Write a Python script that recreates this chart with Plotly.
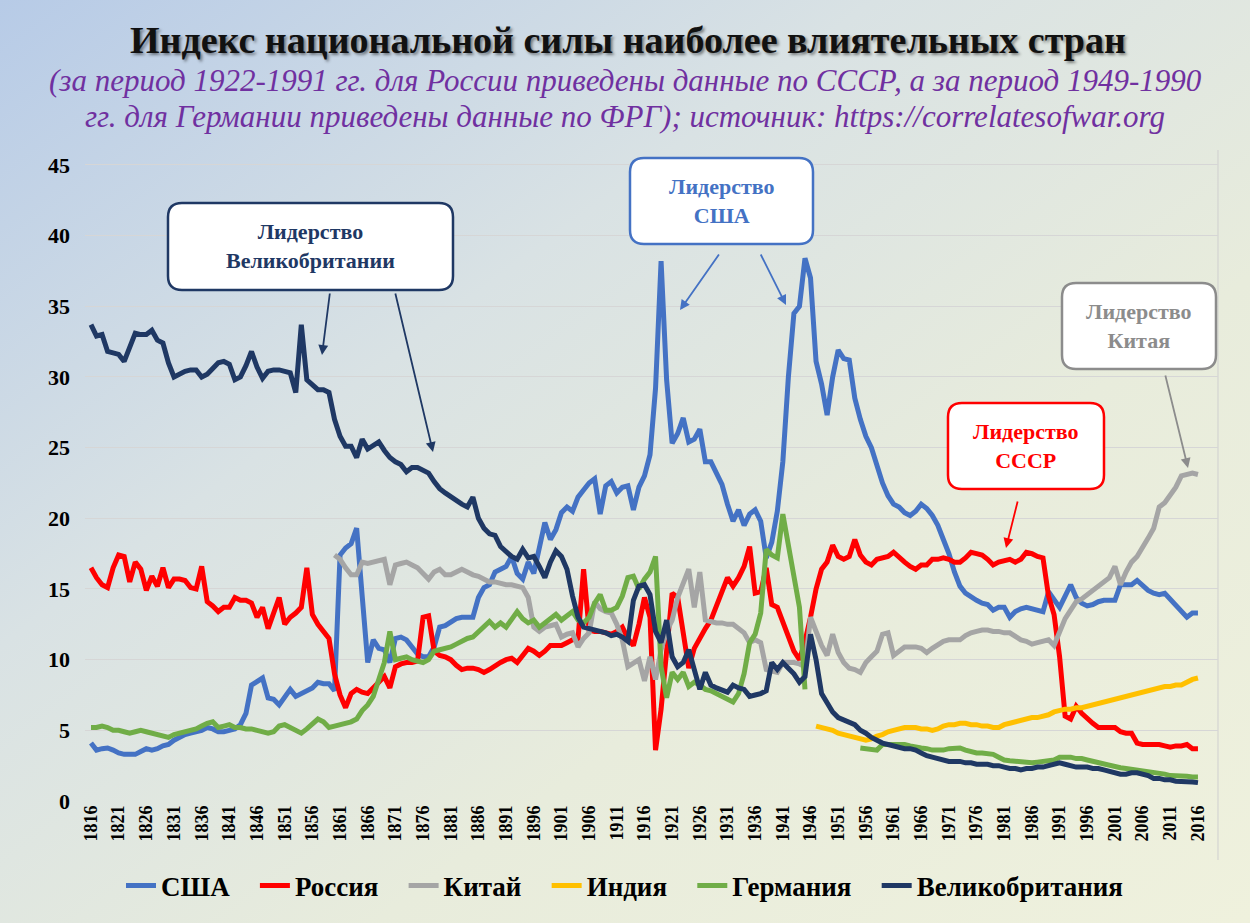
import base64
import plotly.graph_objects as go

# ---------------- data ----------------
years_all = list(range(1816, 2017))

usa_values = [
    4.1, 3.6, 3.7, 3.75, 3.6, 3.4, 3.3, 3.3, 3.3, 3.5,
    3.7, 3.6, 3.7, 3.9, 4.0, 4.3, 4.5, 4.7, 4.8, 4.9,
    5.0, 5.2, 5.1, 4.9, 4.9, 5.0, 5.1, 5.4, 6.2, 8.2,
    8.5, 8.7, 7.3, 7.2, 6.8, 7.3, 7.9, 7.4, 7.6, 7.8,
    8.0, 8.4, 8.3, 8.3, 7.8, 17.4, 17.9, 18.2, 19.3, 14.5,
    9.8, 11.4, 10.8, 10.7, 9.8, 11.5, 11.6, 11.4, 10.9, 10.4,
    10.2, 10.2, 10.9, 12.3, 12.4, 12.7, 12.9, 13.0, 13.0, 13.0,
    14.4, 15.1, 15.3, 16.2, 16.4, 16.6, 17.3, 16.1, 15.7, 16.9,
    16.1, 17.8, 19.7, 18.5, 19.2, 20.4, 20.8, 20.5, 21.5, 22.0,
    22.5, 22.8, 20.3, 22.3, 22.6, 21.8, 22.2, 22.3, 20.6, 22.2,
    23.0, 24.5, 29.2, 38.2, 29.8, 25.3, 26.0, 27.1, 25.4, 25.6,
    26.3, 24.0, 24.0, 23.2, 22.4, 21.0, 19.8, 20.6, 19.5, 20.3,
    20.6, 19.8, 17.2, 18.3, 20.5, 24.0, 30.0, 34.5, 35.0, 38.4,
    37.0, 31.1, 29.5, 27.3, 30.0, 31.9, 31.3, 31.2, 28.5, 27.0,
    25.8, 25.0, 23.7, 22.5, 21.6, 21.0, 20.8, 20.4, 20.2, 20.5,
    21.0, 20.7, 20.2, 19.5, 18.5, 17.5, 16.2, 15.2, 14.7, 14.4,
    14.2, 14.0, 13.9, 13.5, 13.7, 13.7, 13.0, 13.4, 13.6, 13.7,
    13.6, 13.5, 13.4, 14.8, 14.2, 13.7, 14.5, 15.3, 14.4, 14.0,
    13.8, 13.9, 14.1, 14.2, 14.2, 14.2, 15.3, 15.3, 15.3, 15.6,
    15.2, 14.9, 14.7, 14.6, 14.7, 14.3, 13.8, 13.4, 13.0, 13.3,
    13.3,
]

russia_values = [
    16.5, 15.8, 15.3, 15.1, 16.5, 17.4, 17.3, 15.5, 16.9, 16.4,
    14.9, 15.9, 15.2, 16.5, 15.1, 15.7, 15.7, 15.6, 15.1, 15.0,
    16.6, 14.1, 13.8, 13.4, 13.7, 13.7, 14.4, 14.2, 14.2, 14.0,
    13.0, 13.7, 12.2, 13.2, 14.4, 12.5, 13.0, 13.3, 13.7, 16.5,
    13.2, 12.5, 12.0, 11.5, 9.0, 7.5, 6.6, 7.6, 7.9, 7.7,
    7.6, 8.0, 8.4, 8.8, 8.0, 9.5, 9.7, 9.8, 9.8, 9.9,
    13.0, 13.1, 10.6, 10.3, 10.2, 10.0, 9.6, 9.3, 9.4, 9.4,
    9.3, 9.1, 9.3, 9.6, 9.8, 10.0, 10.1, 9.8, 10.3, 10.8,
    10.6, 10.3, 10.6, 11.0, 11.0, 11.0, 11.2, 11.4, 11.5, 16.4,
    12.1, 12.0, 12.0, 11.9, 11.8, 12.0, 12.3, 11.5, 11.0, 12.5,
    14.4, 13.0, 3.6, 6.5, 10.5, 14.7, 14.4, 12.0, 9.4, 10.8,
    11.6, 12.2, 12.8, 13.8, 14.6, 15.8, 15.2, 15.8, 16.6, 18.0,
    14.7, 14.8, 16.5, 13.9, 13.7, 12.6, 11.6, 10.6, 10.0, 11.3,
    13.0, 15.0, 16.4, 16.9, 18.1, 17.3, 17.1, 17.3, 18.5, 17.4,
    16.9, 16.7, 17.1, 17.2, 17.3, 17.6, 17.2, 16.9, 16.6, 16.4,
    16.7, 16.7, 17.1, 17.1, 17.2, 17.1, 16.9, 16.9, 17.2, 17.6,
    17.5, 17.4, 17.1, 16.7, 16.9, 17.0, 17.1, 16.9, 17.1, 17.6,
    17.5, 17.3, 17.2, 14.5, 13.2, 10.2, 6.0, 5.8, 6.7, 6.2,
    5.8, 5.5, 5.2, 5.2, 5.2, 5.2, 4.9, 4.8, 4.8, 4.1,
    4.0, 4.0, 4.0, 4.0, 3.9, 3.8, 3.9, 3.9, 4.0, 3.7,
    3.7,
]

china_years = list(range(1860, 2017))
china_values = [
    17.4, 17.1, 16.5, 16.0, 16.0, 16.9, 16.8, 16.9, 17.0, 17.1,
    15.3, 16.7, 16.8, 16.9, 16.7, 16.5, 16.1, 15.7, 16.2, 16.4,
    16.0, 16.0, 16.2, 16.4, 16.2, 16.0, 15.9, 15.7, 15.5, 15.5,
    15.4, 15.3, 15.3, 15.2, 15.1, 14.4, 12.3, 12.0, 12.3, 12.4,
    12.5, 11.6, 11.8, 11.9, 10.9, 11.5, 11.9, 14.1, 13.6, 13.4,
    13.3, 12.5, 11.4, 9.5, 9.8, 10.0, 8.5, 10.2, 8.6, 10.7,
    12.0, 12.8, 14.4, 15.5, 16.4, 13.7, 16.2, 12.8, 12.7, 12.6,
    12.6, 12.5, 12.5, 12.2, 11.9, 11.2, 11.4, 11.2, 9.3, 9.2,
    9.1, 9.8, 9.8, 9.8, 9.7, 9.5, 13.0, 11.9, 11.0, 10.3,
    11.8, 10.5, 9.8, 9.4, 9.3, 9.1, 9.8, 10.2, 10.6, 11.8,
    11.9, 10.3, 10.6, 10.9, 10.9, 10.9, 10.8, 10.5, 10.8, 11.1,
    11.3, 11.4, 11.4, 11.4, 11.7, 11.9, 12.0, 12.1, 12.1, 12.0,
    12.0, 11.9, 11.9, 11.6, 11.4, 11.3, 11.1, 11.2, 11.3, 11.4,
    11.0, 12.0, 12.9, 13.5, 14.1, 14.3, 14.6, 14.9, 15.2, 15.5,
    15.8, 16.6, 15.3, 16.2, 16.9, 17.3, 17.9, 18.6, 19.3, 20.8,
    21.1, 21.6, 22.2, 23.0, 23.1, 23.2, 23.1,
]

india_years = list(range(1947, 2017))
india_values = [
    5.3, 5.2, 5.1, 5.0, 4.8, 4.7, 4.6, 4.5, 4.4, 4.3,
    4.4, 4.6, 4.7, 4.9, 5.0, 5.1, 5.2, 5.2, 5.2, 5.1,
    5.1, 5.0, 5.1, 5.3, 5.4, 5.4, 5.5, 5.5, 5.4, 5.4,
    5.3, 5.3, 5.2, 5.2, 5.4, 5.5, 5.6, 5.7, 5.8, 5.9,
    5.9, 6.0, 6.1, 6.3, 6.4, 6.5, 6.5, 6.6, 6.6, 6.7,
    6.8, 6.9, 7.0, 7.1, 7.2, 7.3, 7.4, 7.5, 7.6, 7.7,
    7.8, 7.9, 8.0, 8.1, 8.1, 8.2, 8.2, 8.4, 8.6, 8.7,
]

germany_years_1 = list(range(1816, 1946))
germany_values_1 = [
    5.2, 5.2, 5.3, 5.2, 5.0, 5.0, 4.9, 4.8, 4.9, 5.0,
    4.9, 4.8, 4.7, 4.6, 4.5, 4.7, 4.8, 4.9, 5.0, 5.1,
    5.3, 5.5, 5.6, 5.2, 5.3, 5.4, 5.2, 5.2, 5.1, 5.1,
    5.0, 4.9, 4.8, 4.9, 5.3, 5.4, 5.2, 5.0, 4.8, 5.1,
    5.4, 5.8, 5.6, 5.2, 5.3, 5.4, 5.5, 5.6, 5.8, 6.4,
    6.8, 7.4, 8.6, 9.8, 12.0, 10.0, 10.1, 10.2, 10.0, 9.9,
    9.8, 10.0, 10.6, 10.7, 10.8, 10.9, 11.1, 11.3, 11.5, 11.6,
    12.0, 12.4, 12.7, 12.3, 12.6, 12.3, 12.9, 13.4, 12.9, 12.6,
    12.8, 12.3, 12.6, 12.9, 13.2, 12.8, 13.1, 13.4, 12.8, 12.6,
    13.0, 14.0, 14.6, 13.5, 13.5, 13.7, 14.5, 15.8, 15.9, 15.0,
    15.7, 16.2, 17.3, 9.5, 7.3, 9.1, 8.6, 9.1, 8.1, 8.4,
    8.2, 7.9, 7.8, 7.6, 7.4, 7.2, 7.0, 7.6, 9.0, 11.2,
    11.8, 13.3, 17.8, 17.4, 17.2, 20.3, 18.0, 15.5, 13.7, 7.9,
]
germany_years_2 = list(range(1955, 2017))
germany_values_2 = [
    3.75, 3.7, 3.6, 3.6, 4.0, 4.0, 4.0, 4.0, 4.0, 3.9,
    3.8, 3.75, 3.7, 3.6, 3.6, 3.6, 3.7, 3.75, 3.75, 3.6,
    3.5, 3.4, 3.4, 3.35, 3.3, 3.1, 2.9, 2.85, 2.8, 2.75,
    2.7, 2.7, 2.75, 2.8, 2.8, 2.9, 3.1, 3.1, 3.1, 3.0,
    3.0, 2.9, 2.8, 2.7, 2.6, 2.5, 2.4, 2.35, 2.3, 2.25,
    2.2, 2.1, 2.1, 2.0, 1.95, 1.9, 1.8, 1.8, 1.75, 1.75,
    1.7, 1.7,
]

uk_values = [
    33.7, 32.9, 33.0, 31.8, 31.7, 31.6, 31.1, 32.2, 33.1, 33.0,
    33.0, 33.3, 32.6, 32.4, 31.0, 30.0, 30.2, 30.4, 30.5, 30.5,
    30.0, 30.2, 30.6, 31.0, 31.1, 30.9, 29.8, 30.0, 30.8, 31.8,
    30.7, 29.9, 30.4, 30.5, 30.5, 30.4, 30.3, 28.9, 33.7, 29.8,
    29.5, 29.1, 29.1, 28.9, 27.0, 25.8, 25.1, 25.1, 24.3, 25.6,
    24.9, 25.2, 25.4, 24.8, 24.3, 24.0, 23.8, 23.3, 23.6, 23.6,
    23.4, 23.2, 22.6, 22.1, 21.8, 21.5, 21.3, 21.0, 20.8, 21.5,
    20.0, 19.3, 18.9, 18.8, 18.0, 17.6, 17.3, 17.1, 17.8, 17.2,
    17.3, 16.6, 15.8, 16.9, 17.7, 17.3, 16.4, 14.5, 13.0, 12.3,
    12.2, 12.1, 12.0, 11.9, 11.7, 11.8, 11.6, 11.3, 14.2, 15.2,
    15.3, 14.6, 12.0, 11.2, 12.8, 10.2, 9.5, 9.8, 10.7, 9.3,
    7.9, 9.1, 8.2, 8.0, 7.8, 7.7, 8.2, 8.0, 7.9, 7.4,
    7.5, 7.6, 7.8, 9.8, 9.3, 9.8, 9.4, 9.0, 8.4, 8.8,
    11.8, 10.0, 7.6, 6.9, 6.3, 5.9, 5.7, 5.6, 5.4, 5.0,
    4.8, 4.5, 4.3, 4.1, 4.0, 3.9, 3.8, 3.7, 3.7, 3.6,
    3.4, 3.2, 3.1, 3.0, 2.9, 2.8, 2.8, 2.8, 2.7, 2.7,
    2.6, 2.6, 2.6, 2.5, 2.5, 2.4, 2.3, 2.3, 2.2, 2.3,
    2.3, 2.4, 2.4, 2.5, 2.6, 2.7, 2.6, 2.5, 2.4, 2.4,
    2.4, 2.3, 2.3, 2.2, 2.1, 2.0, 1.9, 1.9, 2.0, 2.0,
    1.9, 1.8, 1.6, 1.6, 1.5, 1.5, 1.4, 1.4, 1.4, 1.35,
    1.3,
]

x_tick_values = list(range(1816, 2017, 5))
y_tick_values = [0, 5, 10, 15, 20, 25, 30, 35, 40, 45]

series_names = ["США", "Россия", "Китай", "Индия", "Германия", "Великобритания"]
series_colors = ["#4472c4", "#ff0000", "#a5a5a5", "#ffc000", "#70ad47", "#1f3864"]

# ---------------- figure geometry ----------------
W, H = 1250, 923
L, R, T, B = 85, 32, 161, 122
PW = W - L - R
PH = H - T - B
FONT = "'Liberation Serif', 'DejaVu Serif', 'Times New Roman', serif"


def pxx(px):
    return (px - L) / PW


def pxy(py):
    return (H - B - py) / PH


germany_years = germany_years_1 + [1950] + germany_years_2
germany_values = germany_values_1 + [None] + germany_values_2

series = [
    (years_all, usa_values),
    (years_all, russia_values),
    (china_years, china_values),
    (india_years, india_values),
    (germany_years, germany_values),
    (years_all, uk_values),
]

fig = go.Figure()
for (xs, ys), name, color in zip(series, series_names, series_colors):
    fig.add_trace(go.Scatter(
        x=xs, y=ys, mode="lines",
        name=name + "\u00a0\u00a0\u00a0",   # padding widens the legend spacing
        line=dict(color=color, width=5),
        connectgaps=False,
    ))

# ---------------- background gradient ----------------
svg = (
    "<svg xmlns='http://www.w3.org/2000/svg' width='1250' height='923' preserveAspectRatio='none'>"
    "<defs><linearGradient id='g' x1='0' y1='0' x2='1' y2='1'>"
    "<stop offset='0' stop-color='#b7cbe7'/>"
    "<stop offset='0.35' stop-color='#d9e2e4'/>"
    "<stop offset='0.65' stop-color='#e8ecdc'/>"
    "<stop offset='1' stop-color='#eff1dd'/>"
    "</linearGradient></defs>"
    "<rect width='1250' height='923' fill='url(#g)'/></svg>"
)
bg_src = "data:image/svg+xml;base64," + base64.b64encode(svg.encode()).decode()

fig.add_layout_image(dict(
    source=bg_src, xref="paper", yref="paper",
    x=pxx(0), y=pxy(0), sizex=W / PW, sizey=H / PH,
    xanchor="left", yanchor="top", sizing="stretch", layer="below",
))

# ---------------- title & subtitle ----------------
annotations = [
    dict(text="Индекс национальной силы наиболее влиятельных стран",
         x=pxx(628), y=pxy(40), xref="paper", yref="paper",
         showarrow=False, xanchor="center", yanchor="middle",
         font=dict(family=FONT, size=38, color="#111111", weight="bold",
                   shadow="2px 2px 3px rgba(0,0,0,0.45)")),
    dict(text="(за период 1922-1991 гг. для России приведены данные по СССР, а за период 1949-1990",
         x=pxx(625), y=pxy(80), xref="paper", yref="paper",
         showarrow=False, xanchor="center", yanchor="middle",
         font=dict(family=FONT, size=31, color="#7030a0", style="italic")),
    dict(text="гг. для Германии приведены данные по ФРГ); источник: https://correlatesofwar.org",
         x=pxx(625), y=pxy(117), xref="paper", yref="paper",
         showarrow=False, xanchor="center", yanchor="middle",
         font=dict(family=FONT, size=31, color="#7030a0", style="italic")),
]

# ---------------- callout boxes ----------------
shapes = []


def rrect(x0, y0, x1, y1, r):
    pts = [
        ("M", (x0 + r, y0)), ("L", (x1 - r, y0)), ("Q", (x1, y0), (x1, y0 + r)),
        ("L", (x1, y1 - r)), ("Q", (x1, y1), (x1 - r, y1)),
        ("L", (x0 + r, y1)), ("Q", (x0, y1), (x0, y1 - r)),
        ("L", (x0, y0 + r)), ("Q", (x0, y0), (x0 + r, y0)),
    ]
    out = []
    for p in pts:
        cmd = p[0]
        coords = " ".join(f"{pxx(a):.5f},{pxy(b):.5f}" for a, b in p[1:])
        out.append(f"{cmd} {coords}")
    return " ".join(out) + " Z"


callouts = [
    ((168, 203, 453, 290), "Лидерство<br>Великобритании", "#1f3864",
     [((330, 292), (322, 355)), ((395, 292), (433, 452))]),
    ((630, 158, 813, 244), "Лидерство<br>США", "#4472c4",
     [((720, 253), (680, 310)), ((760, 253), (786, 305))]),
    ((1062, 283, 1216, 369), "Лидерство<br>Китая", "#8c8c8c",
     [((1165, 374), (1188, 468))]),
    ((948, 403, 1104, 489), "Лидерство<br>СССР", "#ff0000",
     [((1018, 500), (1006, 548))]),
]

for (x0, y0, x1, y1), txt, col, arrows in callouts:
    shapes.append(dict(type="path", path=rrect(x0, y0, x1, y1, 14),
                       xref="paper", yref="paper",
                       line=dict(color=col, width=2.5), fillcolor="white", layer="above"))
    annotations.append(dict(text=txt, x=pxx((x0 + x1) / 2), y=pxy((y0 + y1) / 2),
                            xref="paper", yref="paper", showarrow=False,
                            xanchor="center", yanchor="middle",
                            font=dict(family=FONT, size=22, color=col, weight="bold")))
    for (tx, ty), (hx, hy) in arrows:
        annotations.append(dict(text="", x=pxx(hx), y=pxy(hy), xref="paper", yref="paper",
                                ax=tx - hx, ay=ty - hy, showarrow=True,
                                arrowhead=2, arrowsize=1.1, arrowwidth=1.8,
                                arrowcolor=col))

shapes.append(dict(type="line", xref="paper", yref="paper",
                   x0=pxx(1218), x1=pxx(1218), y0=pxy(150), y1=pxy(860),
                   line=dict(color="#cfcfcf", width=1), layer="below"))

fig.update_layout(
    width=W, height=H,
    margin=dict(l=L, r=R, t=T, b=B, pad=0),
    paper_bgcolor="#e3e8df",
    plot_bgcolor="rgba(0,0,0,0)",
    showlegend=True,
    legend=dict(orientation="h", x=pxx(635), xanchor="center",
                y=pxy(886), yanchor="middle",
                font=dict(family=FONT, size=27, color="#000000", weight="bold"),
                bgcolor="rgba(0,0,0,0)", itemwidth=30, tracegroupgap=0),
    xaxis=dict(range=[1814.92, 2019.62], tickmode="array",
               tickvals=x_tick_values, ticktext=[str(v) for v in x_tick_values],
               tickangle=-90, showgrid=False, zeroline=False, showline=False,
               ticks="", tickfont=dict(family=FONT, size=18, color="#000000", weight="bold")),
    yaxis=dict(range=[0, 45.28], tickmode="array", tickvals=y_tick_values,
               showgrid=True, gridcolor="#d6d6d6", gridwidth=1,
               zeroline=False, showline=False, ticks="",
               ticklabelstandoff=14,
               tickfont=dict(family=FONT, size=22, color="#000000", weight="bold")),
    annotations=annotations,
    shapes=shapes,
)

fig.write_html("out.html")
